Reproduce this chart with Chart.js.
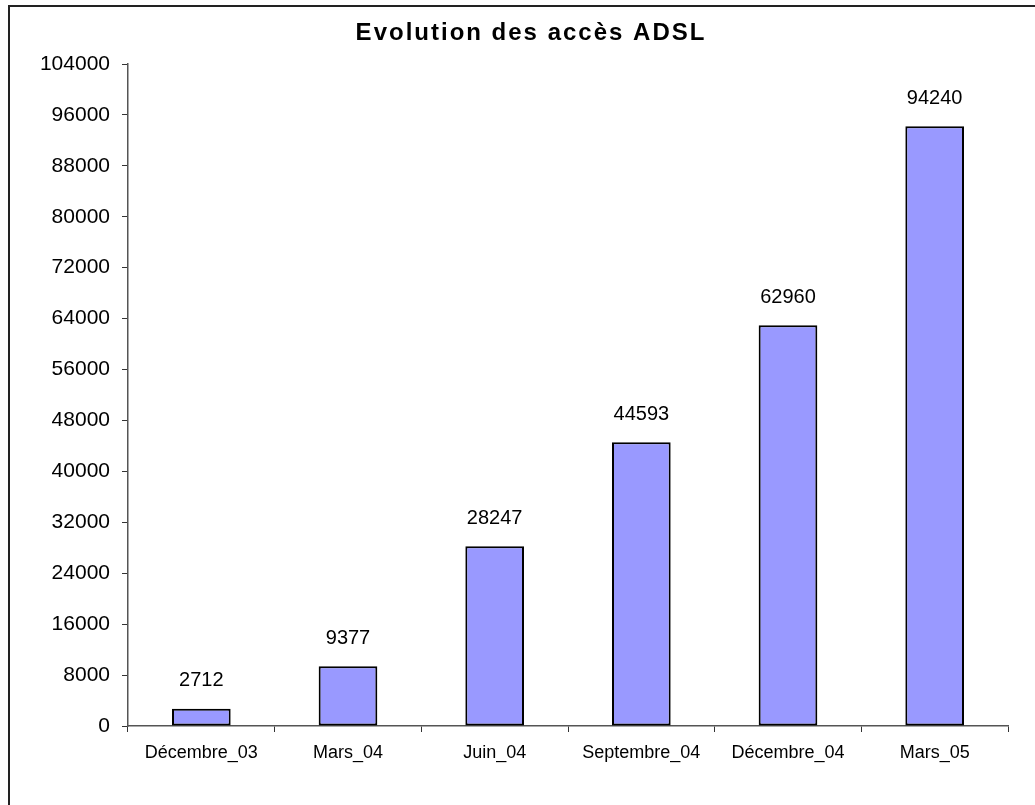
<!DOCTYPE html>
<html lang="fr">
<head>
    <meta charset="UTF-8">
    <title>Evolution des accès ADSL</title>
    <style>
        body {
            margin: 0;
            background: #fff;
            overflow: hidden;
        }
        #frame {
            position: absolute;
            left: 8px;
            top: 5px;
            width: 1200px;
            height: 1000px;
            border-left: 2px solid #222;
            border-top: 2px solid #222;
        }
        #wrap {
            position: absolute;
            left: 0;
            top: 0;
            width: 1035px;
            height: 805px;
        }
    </style>
    <script src="https://cdn.jsdelivr.net/npm/chart.js"></script>
</head>
<body>
    <div id="frame"></div>
    <div id="wrap"><canvas id="adslChart"></canvas></div>

    <script>
        // données
        const categories = ["Décembre_03", "Mars_04", "Juin_04", "Septembre_04", "Décembre_04", "Mars_05"];
        const acces = [2712, 9377, 28247, 44593, 62960, 94240];
        const yMax = 104000;
        const yStep = 8000;
        const titre = 'Evolution des accès ADSL';

        const FONT = '"Liberation Sans", Arial, sans-serif';

        // titre + étiquettes de valeurs au-dessus des barres
        const valueLabels = {
            id: 'valueLabels',
            afterDatasetsDraw(chart) {
                const ctx = chart.ctx;
                const meta = chart.getDatasetMeta(0);
                ctx.save();
                ctx.font = '20px ' + FONT;
                ctx.fillStyle = '#000';
                ctx.textAlign = 'center';
                ctx.textBaseline = 'middle';
                meta.data.forEach((bar, i) => {
                    ctx.fillText(String(acces[i]), bar.x, bar.y - 28);
                });

                ctx.font = 'bold 24px ' + FONT;
                if ('letterSpacing' in ctx) ctx.letterSpacing = '2px';
                ctx.fillText(titre, 531, 33);
                ctx.restore();
            }
        };

        const ctx = document.getElementById('adslChart').getContext('2d');
        new Chart(ctx, {
            type: 'bar',
            data: {
                labels: categories,
                datasets: [{
                    data: acces,
                    backgroundColor: '#9999FF',
                    borderColor: '#000',
                    borderWidth: 2,
                    borderSkipped: false,
                    categoryPercentage: 1,
                    barPercentage: 0.4
                }]
            },
            options: {
                responsive: true,
                maintainAspectRatio: false,
                animation: false,
                layout: {
                    padding: { left: 0, right: 27, top: 64, bottom: 0 }
                },
                plugins: {
                    legend: { display: false },
                    tooltip: { enabled: false },
                    title: { display: false }
                },
                scales: {
                    x: {
                        afterFit(scale) { scale.height = 79; },
                        border: { display: true, color: '#555', width: 1.5 },
                        grid: {
                            display: true,
                            offset: true,
                            drawOnChartArea: false,
                            drawTicks: true,
                            tickLength: 6,
                            color: '#333'
                        },
                        ticks: {
                            color: '#000',
                            padding: 10,
                            maxRotation: 0,
                            font: { family: FONT, size: 18 }
                        }
                    },
                    y: {
                        min: 0,
                        max: yMax,
                        afterFit(scale) { scale.width = 128; },
                        border: { display: true, color: '#555', width: 1.5 },
                        grid: {
                            drawOnChartArea: false,
                            drawTicks: true,
                            tickLength: 6,
                            color: '#333'
                        },
                        ticks: {
                            stepSize: yStep,
                            color: '#000',
                            padding: 12,
                            font: { family: FONT, size: 21 },
                            callback: (v) => String(v)
                        }
                    }
                }
            },
            plugins: [valueLabels]
        });
    </script>
</body>
</html>
